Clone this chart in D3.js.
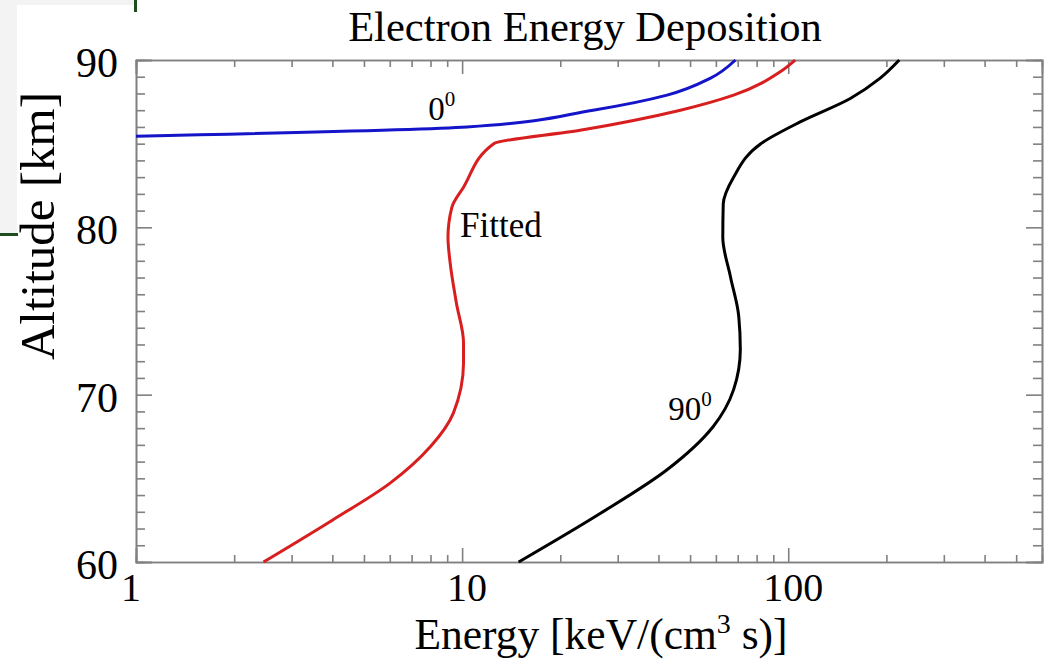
<!DOCTYPE html>
<html>
<head>
<meta charset="utf-8">
<script src="https://cdn.jsdelivr.net/npm/d3@7"></script>
<style>
  body { margin: 0; background: #fff; }
  svg { display: block; font-family: "Liberation Serif", "Times New Roman", serif; }
</style>
</head>
<body>
<div id="chart"></div>
<script>
// curve data: energy [keV/(cm^3 s)] vs altitude [km]
const blueE   = [1, 10.35, 25.2, 42.5, 57.6, 68.9];
const blueAlt = [85.45, 86.0, 87.0, 87.9, 88.9, 90];

const redE   = [2.46, 4.0, 6.0, 8.0, 9.4, 10.1, 10.1, 9.6, 9.2, 9.05, 9.3, 10.1, 12.5, 23, 46.7, 68, 94.5, 105];
const redAlt = [60, 62.5, 64.7, 66.9, 68.9, 71.9, 73.1, 75.5, 77.8, 79.4, 81.2, 82.4, 85.0, 85.8, 87.0, 87.9, 89.3, 90];

const blackE   = [14.9, 26.5, 42.4, 58.9, 68, 71.3, 70.5, 66.5, 63.0, 63.2, 68, 82.4, 108.8, 155, 191, 219];
const blackAlt = [60, 62.9, 65.5, 68.1, 70.3, 72.7, 74.7, 77.05, 79.4, 81.4, 83.0, 85.0, 86.3, 87.7, 88.9, 90];

// axis ticks
const xMajor = [1, 10, 100];
const xMinor = [2, 3, 4, 5, 6, 7, 8, 9, 20, 30, 40, 50, 60, 70, 80, 90, 200, 300, 400, 500];
const yMajor = [60, 70, 80, 90];
const yMinor = d3.range(60, 91).filter(v => v % 10 !== 0);

const W = 1044, H = 665;
const LEFT = 136, RIGHT = 1042, TOP = 60, BOTTOM = 562;

const svg = d3.select("#chart").append("svg")
    .attr("width", W)
    .attr("height", H);

// slide background bits in the corner
svg.append("rect").attr("x", 0).attr("y", 0).attr("width", 17).attr("height", 234).attr("fill", "#f3f3f3");
svg.append("rect").attr("x", 0).attr("y", 0).attr("width", 135).attr("height", 5).attr("fill", "#f3f3f3");
svg.append("rect").attr("x", 134).attr("y", 0).attr("width", 3).attr("height", 12).attr("fill", "#1e4d1e");
svg.append("rect").attr("x", 0).attr("y", 233).attr("width", 18).attr("height", 3).attr("fill", "#1e4d1e");

const x = d3.scaleLog()
    .domain([1, 600])
    .range([LEFT, RIGHT]);

const y = d3.scaleLinear()
    .domain([60, 90])
    .range([BOTTOM, TOP]);

// frame ticks, all pointing inward
function addAxis(gen, values, size, tx, ty) {
    const g = svg.append("g")
        .attr("transform", `translate(${tx},${ty})`)
        .call(gen.tickValues(values).tickSize(size).tickFormat(""));
    g.selectAll("path, line").attr("stroke", "#808080").attr("stroke-width", 1.6);
    return g;
}
addAxis(d3.axisBottom(x), xMinor, -7, 0, BOTTOM);
addAxis(d3.axisBottom(x), xMajor, -14, 0, BOTTOM);
addAxis(d3.axisTop(x), xMinor, -7, 0, TOP);
addAxis(d3.axisTop(x), xMajor, -14, 0, TOP);
addAxis(d3.axisLeft(y), yMinor, -9, LEFT, 0);
addAxis(d3.axisLeft(y), yMajor, -16, LEFT, 0);
addAxis(d3.axisRight(y), yMinor, -9, RIGHT, 0);
addAxis(d3.axisRight(y), yMajor, -16, RIGHT, 0);

// tick labels
svg.append("g").selectAll("text")
    .data(xMajor)
    .join("text")
    .attr("x", d => x(d) + (d === 1 ? -5 : 5))
    .attr("y", 601)
    .attr("text-anchor", "middle")
    .attr("font-size", 40)
    .text(d => d);

svg.append("g").selectAll("text")
    .data(yMajor)
    .join("text")
    .attr("x", 118)
    .attr("y", d => y(d) + 17)
    .attr("text-anchor", "end")
    .attr("font-size", 42)
    .text(d => d);

// titles
svg.append("text")
    .attr("x", 585)
    .attr("y", 41)
    .attr("text-anchor", "middle")
    .attr("font-size", 42.5)
    .text("Electron Energy Deposition");

const xl = svg.append("text")
    .attr("x", 601)
    .attr("y", 649)
    .attr("text-anchor", "middle")
    .attr("font-size", 43.5);
xl.append("tspan").text("Energy [keV/(cm");
xl.append("tspan").attr("dy", -16).attr("font-size", 28).text("3");
xl.append("tspan").attr("dy", 16).text(" s)]");

svg.append("text")
    .attr("transform", `translate(54,226) rotate(-90)`)
    .attr("text-anchor", "middle")
    .attr("font-size", 49)
    .text("Altitude [km]");

// curves
const line = d3.line()
    .x(d => x(d[0]))
    .y(d => y(d[1]))
    .curve(d3.curveMonotoneY);

const series = [
    { e: blueE,  alt: blueAlt,  color: "#1414c8" },
    { e: redE,   alt: redAlt,   color: "#d81e1e" },
    { e: blackE, alt: blackAlt, color: "#000000" }
];

svg.append("g").selectAll("path")
    .data(series)
    .join("path")
    .attr("fill", "none")
    .attr("stroke", d => d.color)
    .attr("stroke-width", 3)
    .attr("d", d => line(d.e.map((v, i) => [v, d.alt[i]])));

// curve labels
function degLabel(e, alt, txt) {
    const t = svg.append("text")
        .attr("x", x(e))
        .attr("y", y(alt))
        .attr("font-size", 33);
    t.append("tspan").text(txt);
    t.append("tspan").attr("dy", -14).attr("font-size", 21).text("0");
}
degLabel(7.87, 86.4, "0");
degLabel(42.9, 68.5, "90");

svg.append("text")
    .attr("x", x(9.86))
    .attr("y", y(79.4))
    .attr("font-size", 35)
    .text("Fitted");
</script>
</body>
</html>
